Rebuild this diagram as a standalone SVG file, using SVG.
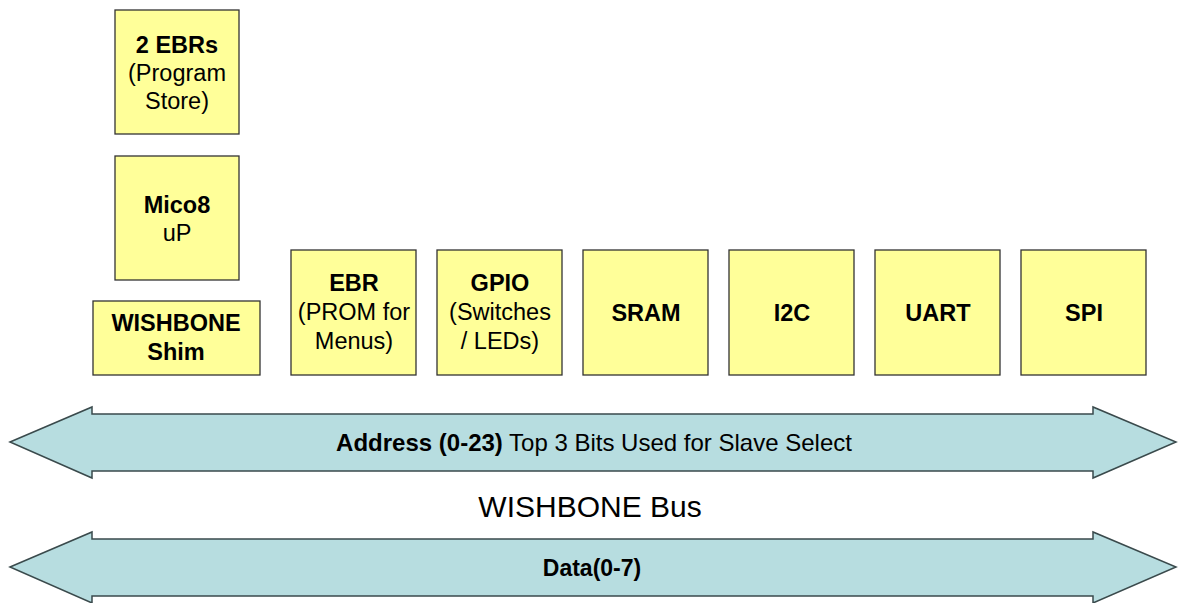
<svg xmlns="http://www.w3.org/2000/svg" width="1178" height="603" viewBox="0 0 1178 603">
  <style>
    .box { fill: #FFFF99; stroke: #333333; stroke-width: 1.3; }
    .bus { fill: #B7DDE0; stroke: #3A4A4C; stroke-width: 1.5; stroke-linejoin: miter; }
    text { font-family: "Liberation Sans", Arial, sans-serif; fill: #000; text-anchor: middle; }
    .lbl { font-size: 23.5px; }
    .b { font-weight: bold; }
  </style>
  <rect width="1178" height="603" fill="#FFFFFF"/>

  <g id="ebrs">
    <rect class="box" x="115" y="10" width="124" height="124"/>
    <text class="lbl" x="177" y="53"><tspan class="b">2 EBRs</tspan><tspan x="177" dy="28">(Program</tspan><tspan x="177" dy="28">Store)</tspan></text>
  </g>
  <g id="mico8">
    <rect class="box" x="115" y="156" width="124" height="124"/>
    <text class="lbl" x="177" y="213"><tspan class="b">Mico8</tspan><tspan x="177" dy="28">uP</tspan></text>
  </g>
  <g id="shim">
    <rect class="box" x="93" y="301" width="167" height="74"/>
    <text class="lbl b" x="176" y="331">WISHBONE<tspan x="176" dy="29">Shim</tspan></text>
  </g>
  <g id="ebr">
    <rect class="box" x="291" y="250" width="125" height="125"/>
    <text class="lbl" x="354" y="291"><tspan class="b">EBR</tspan><tspan x="354" dy="29">(PROM for</tspan><tspan x="354" dy="29">Menus)</tspan></text>
  </g>
  <g id="gpio">
    <rect class="box" x="437" y="250" width="125" height="125"/>
    <text class="lbl" x="500" y="291"><tspan class="b">GPIO</tspan><tspan x="500" dy="29">(Switches</tspan><tspan x="500" dy="29">/ LEDs)</tspan></text>
  </g>
  <g id="sram">
    <rect class="box" x="583" y="250" width="125" height="125"/>
    <text class="lbl b" x="646" y="321">SRAM</text>
  </g>
  <g id="i2c">
    <rect class="box" x="729" y="250" width="125" height="125"/>
    <text class="lbl b" x="792" y="321">I2C</text>
  </g>
  <g id="uart">
    <rect class="box" x="875" y="250" width="125" height="125"/>
    <text class="lbl b" x="938" y="321">UART</text>
  </g>
  <g id="spi">
    <rect class="box" x="1021" y="250" width="125" height="125"/>
    <text class="lbl b" x="1084" y="321">SPI</text>
  </g>

  <g id="connectors">
    <path class="bus" d="M10,442 L92,407 L92,414 L1093,414 L1093,407 L1176,442 L1093,478 L1093,471 L92,471 L92,478 Z"/>
    <path class="bus" d="M10,567 L92,532 L92,539 L1093,539 L1093,532 L1176,567 L1093,603 L1093,596 L92,596 L92,603 Z"/>
  </g>

  <g id="labels">
    <text x="594" y="451" font-size="24"><tspan font-weight="bold">Address (0-23)</tspan> Top 3 Bits Used for Slave Select</text>
    <text x="590" y="517" font-size="30">WISHBONE Bus</text>
    <text x="592" y="576" font-size="23" font-weight="bold">Data(0-7)</text>
  </g>
</svg>
